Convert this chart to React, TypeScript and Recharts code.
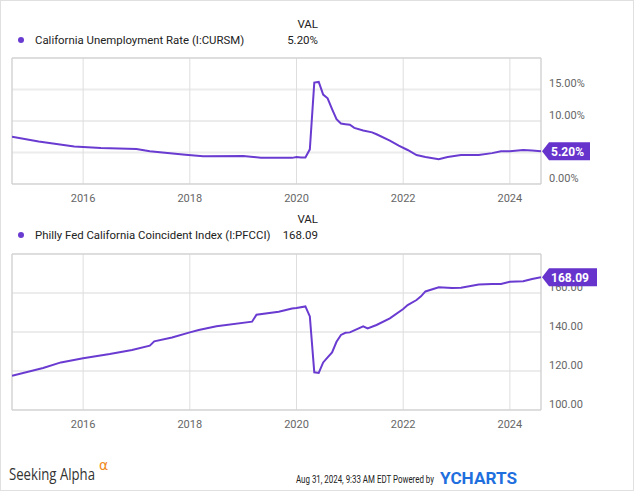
import React from "react";
import {
  LineChart,
  Line,
  XAxis,
  YAxis,
  CartesianGrid,
  ReferenceArea,
  ReferenceDot,
} from "recharts";

const PURPLE = "#6a3bd1";
const BADGE = "#6633cc";
const FONT = "Roboto, sans-serif";

// month-end dates, as YCharts plots them
const yearTicks = [2016, 2018, 2020, 2022, 2024];
const xStart = 2014 + 8 / 12;
const xEnd = 2024 + 7 / 12;

// California Unemployment Rate (I:CURSM), %
const unrateDates = [
  "2014-08", "2015-02", "2015-10", "2016-04", "2016-12", "2017-03", "2017-11",
  "2018-03", "2018-12", "2019-04", "2019-11", "2019-12", "2020-01", "2020-02",
  "2020-03", "2020-04", "2020-05", "2020-06", "2020-07", "2020-08", "2020-09",
  "2020-10", "2020-11", "2020-12", "2021-01", "2021-03", "2021-05", "2021-06",
  "2021-09", "2021-11", "2022-01", "2022-03", "2022-05", "2022-08", "2022-10",
  "2023-01", "2023-05", "2023-08", "2023-10", "2023-12", "2024-03", "2024-05",
  "2024-07",
];
const unrateValues = [
  7.5, 6.75, 5.95, 5.7, 5.55, 5.2, 4.65,
  4.4, 4.45, 4.15, 4.15, 4.3, 4.2, 4.2,
  5.5, 16.1, 16.2, 14.2, 13.6, 11.9, 10.3,
  9.6, 9.5, 9.4, 8.9, 8.5, 8.2, 7.9,
  6.9, 6.1, 5.4, 4.6, 4.3, 3.95, 4.3,
  4.6, 4.6, 4.9, 5.2, 5.2, 5.4, 5.3,
  5.2,
];
const unrateTicks = [0, 5, 10, 15, 20];

// Philly Fed California Coincident Index (I:PFCCI)
const pfcciDates = [
  "2014-08", "2015-03", "2015-07", "2015-12", "2016-06", "2016-11", "2017-03",
  "2017-04", "2017-08", "2017-12", "2018-02", "2018-06", "2019-02", "2019-03",
  "2019-08", "2019-11", "2019-12", "2020-02", "2020-03", "2020-04", "2020-05",
  "2020-06", "2020-07", "2020-08", "2020-09", "2020-10", "2020-11", "2020-12",
  "2021-03", "2021-04", "2021-06", "2021-09", "2021-12", "2022-01", "2022-03",
  "2022-04", "2022-05", "2022-08", "2022-11", "2023-01", "2023-05", "2023-08",
  "2023-10", "2023-12", "2024-03", "2024-05", "2024-07",
];
const pfcciValues = [
  117.6, 121.5, 124.4, 126.5, 128.7, 130.8, 133.0,
  135.2, 137.2, 139.8, 141.0, 142.9, 145.3, 148.9,
  150.4, 152.1, 152.3, 153.1, 148.0, 119.3, 119.0,
  124.4, 127.0, 129.5, 135.0, 138.5, 139.6, 139.8,
  142.9, 141.8, 143.6, 147.0, 151.8, 153.8, 156.4,
  158.3, 160.8, 162.9, 162.6, 162.7, 164.3, 164.6,
  164.6, 165.8, 166.0, 167.2, 168.09,
];
const pfcciTicks = [100, 120, 140, 160, 180];

const toYear = (d: string) => {
  const [y, m] = d.split("-").map(Number);
  return y + m / 12;
};

const buildRows = (dates: string[], values: number[]) =>
  dates.map((d, i) => ({ t: toYear(d), v: values[i] }));

type PanelProps = {
  rows: { t: number; v: number }[];
  ticks: number[];
  fmt: (v: number) => string;
  badge: string;
  badgeWidth: number;
  top: number;
  height: number;
  marginTop: number;
  xAxisHeight: number;
};

const Badge = (props: any) => {
  const { cx, cy, text, w } = props;
  const path = `M${cx + 1},${cy} L${cx + 8},${cy - 9} L${cx + w},${cy - 9} L${cx + w},${cy + 9} L${cx + 8},${cy + 9} Z`;
  return (
    <g>
      <path d={path} fill={BADGE} />
      <text
        x={cx + 10}
        y={cy}
        dy="0.36em"
        fill="#fff"
        fontSize={12}
        fontWeight="bold"
        fontFamily={FONT}
      >
        {text}
      </text>
    </g>
  );
};

const Panel = ({ rows, ticks, fmt, badge, badgeWidth, top, height, marginTop, xAxisHeight }: PanelProps) => {
  const yMin = ticks[0];
  const yMax = ticks[ticks.length - 1];
  const last = rows[rows.length - 1];

  const YTick = (p: any) => {
    const val = p.payload.value;
    // top tick is the frame; a label sitting right under the value badge is hidden by it
    if (val === yMax || Math.abs(val - last.v) / (yMax - yMin) < 0.03) return <g />;
    return (
      <text x={p.x} y={p.y - 6} dy="0.355em" fill="#666" fontSize={11} fontFamily={FONT}>
        {fmt(val)}
      </text>
    );
  };

  return (
    <div style={{ position: "absolute", left: 0, top }}>
      <LineChart
        width={635}
        height={height}
        data={rows}
        margin={{ top: marginTop, right: 0, bottom: 0, left: 11 }}
      >
        <CartesianGrid vertical={false} stroke="#ececec" strokeWidth={2} />
        <CartesianGrid horizontal={false} stroke="#dedede" />
        <XAxis
          dataKey="t"
          type="number"
          domain={[xStart, xEnd]}
          ticks={yearTicks}
          allowDataOverflow
          height={xAxisHeight}
          axisLine={false}
          tickLine={false}
          tickMargin={4}
          tick={{ fontSize: 11, fill: "#666", fontFamily: FONT }}
        />
        <YAxis
          orientation="right"
          domain={[yMin, yMax]}
          ticks={ticks}
          width={95}
          axisLine={false}
          tickLine={false}
          tick={YTick}
        />
        <ReferenceArea
          x1={xStart}
          x2={xEnd}
          y1={yMin}
          y2={yMax}
          fill="none"
          stroke="#cfcfcf"
          strokeWidth={1}
          fillOpacity={0}
        />
        <Line
          type="linear"
          dataKey="v"
          stroke={PURPLE}
          strokeWidth={2}
          dot={false}
          isAnimationActive={false}
        />
        <ReferenceDot
          x={last.t}
          y={last.v}
          r={0}
          ifOverflow="visible"
          zIndex={2000}
          shape={(p: any) => <Badge cx={p.cx} cy={p.cy} text={badge} w={badgeWidth} />}
        />
      </LineChart>
    </div>
  );
};

const Legend = ({ top, name, value }: { top: number; name: string; value: string }) => (
  <>
    <div style={{ position: "absolute", right: 315, top: top - 16, fontSize: 11.5, lineHeight: "14px", color: "#222" }}>
      VAL
    </div>
    <div
      style={{
        position: "absolute",
        left: 17,
        top: top + 4,
        width: 6,
        height: 6,
        borderRadius: "50%",
        background: PURPLE,
      }}
    />
    <div style={{ position: "absolute", left: 34, top, fontSize: 11.4, lineHeight: "14px", color: "#222" }}>
      {name}
    </div>
    <div style={{ position: "absolute", right: 315, top, fontSize: 11.5, lineHeight: "14px", color: "#222" }}>
      {value}
    </div>
  </>
);

export default function App() {
  return (
    <div
      style={{
        position: "absolute",
        left: 0,
        top: 0,
        width: 634,
        height: 491,
        boxSizing: "border-box",
        border: "1px solid #e0e0e0",
        background: "#fff",
        fontFamily: FONT,
      }}
    >
      <Legend top={32} name="California Unemployment Rate (I:CURSM)" value="5.20%" />
      <Legend top={227} name="Philly Fed California Coincident Index (I:PFCCI)" value="168.09" />
      <Panel
        rows={buildRows(unrateDates, unrateValues)}
        ticks={unrateTicks}
        fmt={(v) => `${v.toFixed(2)}%`}
        badge="5.20%"
        badgeWidth={49}
        top={0}
        height={210}
        marginTop={57}
        xAxisHeight={27}
      />
      <Panel
        rows={buildRows(pfcciDates, pfcciValues)}
        ticks={pfcciTicks}
        fmt={(v) => v.toFixed(2)}
        badge="168.09"
        badgeWidth={56}
        top={210}
        height={230}
        marginTop={43}
        xAxisHeight={31}
      />
      <svg style={{ position: "absolute", left: 0, top: 440 }} width={634} height={51}>
        <text x={8} y={39} fontSize={15.5} fontFamily="'Open Sans', sans-serif" fill="#333" textLength={86} lengthAdjust="spacingAndGlyphs">
          Seeking Alpha
        </text>
        <text x={98} y={29} fontSize={14} fontFamily="'DejaVu Sans', sans-serif" fill="#f08a24">
          α
        </text>
        <text x={295} y={41.7} fontSize={11} fontFamily={FONT} fill="#222" textLength={138} lengthAdjust="spacingAndGlyphs">
          Aug 31, 2024, 9:33 AM EDT Powered by
        </text>
        <text x={439} y={43.3} fontSize={16} fontWeight="bold" fontFamily={FONT} fill="#1f6fde" textLength={77} lengthAdjust="spacingAndGlyphs">
          YCHARTS
        </text>
      </svg>
    </div>
  );
}
